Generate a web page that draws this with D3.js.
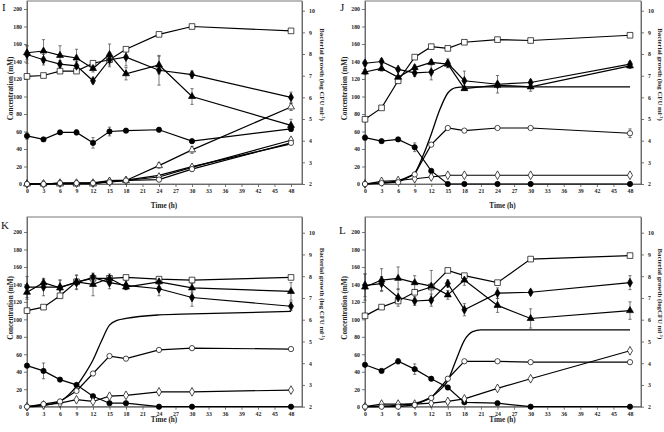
<!DOCTYPE html>
<html><head><meta charset="utf-8">
<script src="https://cdn.jsdelivr.net/npm/d3@7"></script>
<style>body{margin:0;background:#fff}svg{display:block}</style>
</head><body>
<svg id="c" width="664" height="432"></svg>
<script>
const times = [0,3,6,9,12,15,18,24,30,48];
const timeTicks = [0,3,6,9,12,15,18,21,24,27,30,33,36,39,42,45,48];
const concTicks = [0,20,40,60,80,100,120,140,160,180,200];
const growthTicks = [2,3,4,5,6,7,8,9,10];

// Panel I
const I_square = [123,124,129,129,138,142,154,171,180,175];
const I_triangle = [150,152,147,144,132,148,126,136,100,67];
const I_triangleErr = [8,13,11,10,4,12,7,10,9,7];
const I_diamond = [148,142,137,135,118,142,145,130,125,99];
const I_diamondErr = [10,6,4,5,3,8,10,17,4,6];
const I_circle = [55,51,59,59,47,60,61,62,49,63];
const I_circleErr = [4,2,2,3,6,5,2,2,2,3];
const I_openTri = [0,0,0,0,0,3,4,21,39,88];
const I_openTriErr = [0,0,0,0,0,1,1,3,4,4];
const I_openCircle = [0,0,1,1,1,2,4,5,17,47];
const I_openDiamond = [0,0,1,1,1,3,4,8,19,50];
const I_growthT = [0,3,6,9,12,15,18,24,30,48];
const I_growth = [2.0,2.0,2.02,2.04,2.05,2.15,2.18,2.4,2.8,3.85];

// Panel J
const J_square = [74,87,118,145,157,155,162,165,164,170];
const J_diamond = [138,140,131,127,128,138,118,114,116,137];
const J_diamondErr = [3,3,2,4,9,5,11,10,3,3];
const J_triangle = [128,132,122,133,139,137,109,113,111,135];
const J_triangleErr = [3,3,2,3,3,4,2,3,5,3];
const J_circle = [53,49,51,42,15,0,0,0,0,0];
const J_circleErr = [3,2,2,5,2,0,0,0,0,0];
const J_openCircle = [0,1,2,11,45,64,61,64,64,58];
const J_openCircleErr = [0,0,0,1,2,1,1,1,1,5];
const J_openDiamond = [0,3,4,6,8,10,10,10,10,10];
const J_growthT = [0,3,6,8,9,10.5,12,13.5,15,16.5,18,24,30,48];
const J_growth = [2.0,2.05,2.15,2.35,2.5,3.3,4.3,5.4,6.2,6.45,6.48,6.48,6.48,6.48];

// Panel K
const K_square = [110,114,127,143,147,147,148,146,145,148];
const K_triangle = [131,142,136,143,140,147,137,143,136,132];
const K_triangleErr = [8,4,9,8,13,5,3,3,5,10];
const K_diamond = [137,137,137,142,148,142,139,135,125,115];
const K_diamondErr = [12,10,8,8,3,7,5,8,10,5];
const K_circle = [47,41,31,25,12,4,4,0,0,0];
const K_circleErr = [2,9,1,2,2,1,1,0,0,0];
const K_openCircle = [0,3,6,18,38,58,55,65,67,66];
const K_openDiamond = [0,2,4,8,6,12,13,17,17,19];
const K_growthT = [0,3,6,9,10.5,12,13.5,15,16.5,18,24,30,48];
const K_growth = [2.0,2.05,2.25,2.95,3.5,4.15,5.0,5.75,5.98,6.06,6.22,6.27,6.38];

// Panel L
const L_square = [104,114,121,131,137,156,150,142,169,173];
const L_diamond = [139,141,125,121,122,141,111,130,131,142];
const L_diamondErr = [13,8,10,5,7,4,7,6,3,8];
const L_triangle = [137,145,147,142,138,128,145,116,101,110];
const L_triangleErr = [15,13,13,8,18,5,6,8,11,10];
const L_circle = [48,41,52,43,32,22,5,4,0,0];
const L_circleErr = [2,2,3,6,2,2,1,1,0,0];
const L_openCircle = [0,0,0,2,10,32,52,52,51,51];
const L_openDiamond = [0,3,3,3,4,6,9,21,32,64];
const L_growthT = [0,3,6,9,12,13.5,15,16.5,18,19.5,21,24,30,48];
const L_growth = [2.0,2.02,2.07,2.15,2.45,2.75,3.2,4.15,5.05,5.45,5.53,5.53,5.53,5.53];

const panels = [
  {letter:"I", lx:2, ly:11, x0:27, x48:291, xr:302, yTop:1, y0:184, y200:9, y10:10.7, leftTitleX:10, rightTitleX:322, timeY:208,
   series:[
    {v:I_square, sym:"square", fill:"#fff"},
    {v:I_triangle, e:I_triangleErr, sym:"triangle", fill:"#000"},
    {v:I_diamond, e:I_diamondErr, sym:"diamond", fill:"#000"},
    {v:I_circle, e:I_circleErr, sym:"circle", fill:"#000"},
    {v:I_openTri, e:I_openTriErr, sym:"triangle", fill:"#fff"},
    {v:I_openDiamond, sym:"diamond", fill:"#fff"},
    {v:I_openCircle, sym:"circle", fill:"#fff"}],
   growthT:I_growthT, growth:I_growth, smooth:false},
  {letter:"J", lx:340, ly:11, x0:365, x48:630, xr:641, yTop:1, y0:184, y200:9, y10:10.7, leftTitleX:344, rightTitleX:660, timeY:208,
   series:[
    {v:J_square, sym:"square", fill:"#fff"},
    {v:J_triangle, e:J_triangleErr, sym:"triangle", fill:"#000"},
    {v:J_diamond, e:J_diamondErr, sym:"diamond", fill:"#000"},
    {v:J_circle, e:J_circleErr, sym:"circle", fill:"#000"},
    {v:J_openDiamond, sym:"diamond", fill:"#fff"},
    {v:J_openCircle, e:J_openCircleErr, sym:"circle", fill:"#fff"}],
   growthT:J_growthT, growth:J_growth, smooth:true},
  {letter:"K", lx:1, ly:229, x0:27, x48:291, xr:302, yTop:217, y0:406.7, y200:232, y10:232.7, leftTitleX:10, rightTitleX:322, timeY:422,
   series:[
    {v:K_square, sym:"square", fill:"#fff"},
    {v:K_triangle, e:K_triangleErr, sym:"triangle", fill:"#000"},
    {v:K_diamond, e:K_diamondErr, sym:"diamond", fill:"#000"},
    {v:K_circle, e:K_circleErr, sym:"circle", fill:"#000"},
    {v:K_openDiamond, sym:"diamond", fill:"#fff"},
    {v:K_openCircle, sym:"circle", fill:"#fff"}],
   growthT:K_growthT, growth:K_growth, smooth:true},
  {letter:"L", lx:339, ly:234, x0:365, x48:630, xr:641, yTop:217, y0:406.7, y200:232, y10:232.7, leftTitleX:344, rightTitleX:660, timeY:422,
   series:[
    {v:L_square, sym:"square", fill:"#fff"},
    {v:L_triangle, e:L_triangleErr, sym:"triangle", fill:"#000"},
    {v:L_diamond, e:L_diamondErr, sym:"diamond", fill:"#000"},
    {v:L_circle, e:L_circleErr, sym:"circle", fill:"#000"},
    {v:L_openDiamond, sym:"diamond", fill:"#fff"},
    {v:L_openCircle, sym:"circle", fill:"#fff"}],
   growthT:L_growthT, growth:L_growth, smooth:true}
];

const svg = d3.select("#c");
const font = "'Liberation Serif','Times New Roman',serif";
const symTypes = {square:[d3.symbolSquare,32], triangle:[d3.symbolTriangle,21], diamond:[d3.symbolDiamond,22], circle:[d3.symbolCircle,22]};

panels.forEach(p => {
  const g = svg.append("g");
  const xMax = 48 * (p.xr - p.x0) / (p.x48 - p.x0);
  const x = d3.scaleLinear().domain([0, xMax]).range([p.x0, p.xr]);
  const yMaxL = 200 * (p.y0 - p.yTop) / (p.y0 - p.y200);
  const y = d3.scaleLinear().domain([0, yMaxL]).range([p.y0, p.yTop]);
  const yMaxR = 2 + 8 * (p.y0 - p.yTop) / (p.y0 - p.y10);
  const yr = d3.scaleLinear().domain([2, yMaxR]).range([p.y0, p.yTop]);

  g.append("rect").attr("x", p.x0).attr("y", p.yTop).attr("width", p.xr - p.x0).attr("height", p.y0 - p.yTop)
    .attr("fill", "none").attr("stroke", "#555").attr("stroke-width", 0.8);

  const styleAxis = sel => {
    sel.selectAll("path").attr("stroke", "#555").attr("stroke-width", 0.8);
    sel.selectAll("line").attr("stroke", "#555").attr("stroke-width", 0.8);
    sel.selectAll("text").attr("font-family", font).attr("font-weight", "bold").attr("font-size", 5.8).attr("fill", "#222");
  };
  g.append("g").attr("transform", `translate(0,${p.y0})`)
    .call(d3.axisBottom(x).tickValues(timeTicks).tickSize(3).tickPadding(2).tickSizeOuter(0)).call(styleAxis);
  g.append("g").attr("transform", `translate(${p.x0},0)`)
    .call(d3.axisLeft(y).tickValues(concTicks).tickSize(3).tickPadding(2).tickSizeOuter(0)).call(styleAxis);
  g.append("g").attr("transform", `translate(${p.xr},0)`)
    .call(d3.axisRight(yr).tickValues(growthTicks).tickSize(3).tickPadding(4).tickSizeOuter(0)).call(styleAxis);

  const cy = (p.y0 + p.yTop) / 2;
  g.append("text").attr("transform", `translate(${p.leftTitleX + 2.5},${cy - 4}) rotate(-90)`)
    .attr("text-anchor", "middle").attr("font-family", font).attr("font-weight", "bold").attr("font-size", 7.2)
    .attr("fill", "#222").text("Concentration (mM)");
  const rt = g.append("text").attr("transform", `translate(${p.rightTitleX - 2.5},${cy - 18}) rotate(90)`)
    .attr("text-anchor", "middle").attr("font-family", font).attr("font-weight", "bold").attr("font-size", 6.8)
    .attr("fill", "#222");
  rt.append("tspan").text(p.letter === "L" ? "Bacterial growth (logCFU ml" : "Bacterial growth (log CFU ml");
  rt.append("tspan").attr("dy", -2.5).attr("font-size", 4.5).text("-1");
  rt.append("tspan").attr("dy", 2.5).text(")");
  g.append("text").attr("x", (p.x0 + p.x48) / 2 + 5).attr("y", p.timeY).attr("text-anchor", "middle")
    .attr("font-family", font).attr("font-weight", "bold").attr("font-size", 7.2).attr("fill", "#222").text("Time (h)");
  g.append("text").attr("x", p.lx).attr("y", p.ly).attr("font-family", font).attr("font-size", 11)
    .attr("fill", "#111").text(p.letter);

  const gl = d3.line().x((d, i) => x(p.growthT[i])).y(d => yr(d)).curve(p.smooth ? d3.curveMonotoneX : d3.curveLinear);
  g.append("path").attr("d", gl(p.growth)).attr("fill", "none").attr("stroke", "#000").attr("stroke-width", 1.3);

  const line = d3.line().x((d, i) => x(times[i])).y(d => y(d));
  p.series.forEach(s => {
    g.append("path").attr("d", line(s.v)).attr("fill", "none").attr("stroke", "#000").attr("stroke-width", 1.2);
  });
  p.series.forEach(s => {
    if (!s.e) return;
    s.v.forEach((v, i) => {
      const e = s.e[i]; if (!e) return;
      const cx = x(times[i]);
      g.append("line").attr("x1", cx).attr("x2", cx).attr("y1", y(v - e)).attr("y2", y(v + e)).attr("stroke", "#444").attr("stroke-width", 0.7);
      [v - e, v + e].forEach(w => g.append("line").attr("x1", cx - 1.6).attr("x2", cx + 1.6).attr("y1", y(w)).attr("y2", y(w)).attr("stroke", "#444").attr("stroke-width", 0.7));
    });
  });
  p.series.forEach(s => {
    const [type, size] = symTypes[s.sym];
    const sym = d3.symbol().type(type).size(size);
    s.v.forEach((v, i) => {
      g.append("path").attr("d", sym()).attr("transform", `translate(${x(times[i])},${y(v)})`)
        .attr("fill", s.fill).attr("stroke", "#000").attr("stroke-width", 0.7);
    });
  });
});
</script>
</body></html>
